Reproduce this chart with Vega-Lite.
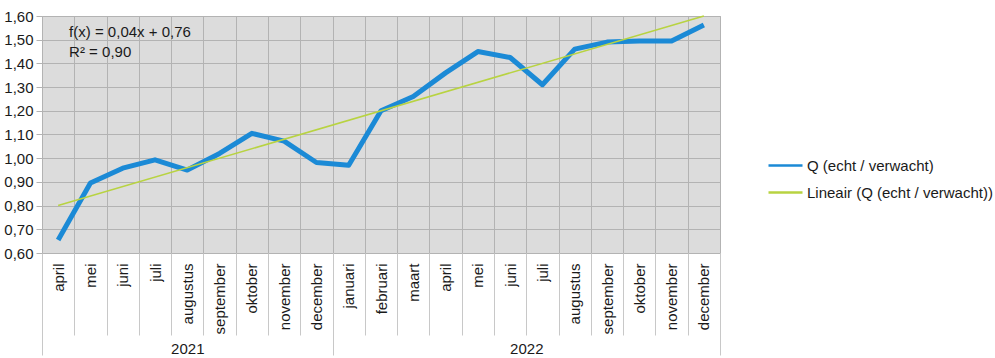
{
  "$schema": "https://vega.github.io/schema/vega-lite/v6.json",
  "width": 678,
  "height": 237,
  "autosize": {"type": "none"},
  "padding": {"left": 42, "top": 16, "right": 275, "bottom": 105},
  "background": "white",
  "config": {
    "font": "Liberation Sans",
    "view": {"fill": "#dcdcdc", "stroke": "#b3b3b3", "strokeWidth": 1},
    "axis": {"labelFont": "Liberation Sans", "labelColor": "#1a1a1a", "labelFontSize": 15},
    "legend": {"labelFont": "Liberation Sans", "labelColor": "#1a1a1a", "labelFontSize": 15}
  },
  "datasets": {
    "q": [
      {"maand": "april 2021", "q": 0.655},
      {"maand": "mei 2021", "q": 0.895},
      {"maand": "juni 2021", "q": 0.958},
      {"maand": "juli 2021", "q": 0.993},
      {"maand": "augustus 2021", "q": 0.95},
      {"maand": "september 2021", "q": 1.02},
      {"maand": "oktober 2021", "q": 1.105},
      {"maand": "november 2021", "q": 1.072},
      {"maand": "december 2021", "q": 0.982},
      {"maand": "januari 2022", "q": 0.97},
      {"maand": "februari 2022", "q": 1.2},
      {"maand": "maart 2022", "q": 1.26},
      {"maand": "april 2022", "q": 1.36},
      {"maand": "mei 2022", "q": 1.45},
      {"maand": "juni 2022", "q": 1.425},
      {"maand": "juli 2022", "q": 1.31},
      {"maand": "augustus 2022", "q": 1.46},
      {"maand": "september 2022", "q": 1.49},
      {"maand": "oktober 2022", "q": 1.495},
      {"maand": "november 2022", "q": 1.495},
      {"maand": "december 2022", "q": 1.562}
    ],
    "trend": [
      {"t": 1, "v": 0.8},
      {"t": 21, "v": 1.6}
    ]
  },
  "layer": [
    {
      "data": {"name": "q"},
      "mark": {"type": "line", "strokeWidth": 5, "strokeJoin": "round", "strokeCap": "butt"},
      "encoding": {
        "x": {
          "field": "maand", "type": "nominal", "sort": null, "bandPosition": 0.5,
          "scale": {"type": "band", "paddingInner": 0, "paddingOuter": 0},
          "axis": {
            "orient": "bottom", "title": null, "tickBand": "extent", "grid": true,
            "gridColor": "#b3b3b3", "domain": false, "tickSize": 82, "tickColor": "#c8c8c8",
            "labelAngle": -90, "labelAlign": "right", "labelBaseline": "middle",
            "labelPadding": -72, "labelOverlap": false, "labelFlush": false,
            "labelExpr": "split(datum.label, ' ')[0]"
          }
        },
        "y": {
          "field": "q", "type": "quantitative", "title": null,
          "scale": {"domain": [0.6, 1.6], "zero": false, "nice": false},
          "axis": {
            "title": null, "values": [0.6, 0.7, 0.8, 0.9, 1.0, 1.1, 1.2, 1.3, 1.4, 1.5, 1.6],
            "labelExpr": "replace(format(datum.value, '.2f'), '.', ',')",
            "grid": true, "gridColor": "#b3b3b3", "tickSize": 6, "tickColor": "#b3b3b3",
            "domain": false, "labelPadding": 3, "labelOverlap": false, "labelFlush": false
          }
        },
        "color": {
          "datum": "Q (echt / verwacht)", "type": "nominal",
          "scale": {
            "domain": ["Q (echt / verwacht)", "Lineair (Q (echt / verwacht))"],
            "range": ["#1b8ad6", "#b8d341"]
          },
          "legend": {
            "orient": "none", "legendX": 725, "legendY": 131, "title": null,
            "symbolType": "stroke", "symbolSize": 1156, "symbolStrokeWidth": 2.5,
            "rowPadding": -3, "labelOffset": 3, "labelLimit": 0
          }
        }
      }
    },
    {
      "layer": [
        {
          "data": {"name": "trend"},
          "mark": {"type": "line", "strokeWidth": 1.6},
          "encoding": {
            "x": {
              "field": "t", "type": "quantitative", "title": null,
              "scale": {"domain": [0.5, 21.5], "nice": false, "zero": false},
              "axis": {
                "orient": "bottom", "title": null, "values": [0.5, 5, 9.5, 15.5, 21.5],
                "labelExpr": "datum.value == 5 ? '2021' : (datum.value == 15.5 ? '2022' : '')",
                "grid": false, "domain": false, "tickSize": 102, "tickColor": "#c8c8c8",
                "tickOpacity": {"condition": {"test": "datum.value == 5 || datum.value == 15.5", "value": 0}, "value": 1},
                "labelPadding": -14, "labelAngle": 0, "labelAlign": "center", "labelBaseline": "top",
                "labelOverlap": false, "labelFlush": false
              }
            },
            "y": {
              "field": "v", "type": "quantitative", "title": null,
              "axis": {
                "title": null, "values": [0.6, 0.7, 0.8, 0.9, 1.0, 1.1, 1.2, 1.3, 1.4, 1.5, 1.6],
                "labelExpr": "replace(format(datum.value, '.2f'), '.', ',')",
                "grid": true, "gridColor": "#b3b3b3", "tickSize": 6, "tickColor": "#b3b3b3",
                "domain": false, "labelPadding": 3, "labelOverlap": false, "labelFlush": false
              }
            },
            "color": {"datum": "Lineair (Q (echt / verwacht))", "type": "nominal"}
          }
        },
        {
          "data": {"values": [{}]},
          "mark": {
            "type": "text", "text": ["f(x) = 0,04x + 0,76", "R² = 0,90"],
            "align": "left", "baseline": "alphabetic", "lineHeight": 20.8,
            "fontSize": 15, "font": "Liberation Sans", "color": "#1a1a1a"
          },
          "encoding": {
            "x": {
              "datum": 1.34, "type": "quantitative", "title": null,
              "axis": {
                "orient": "bottom", "title": null, "values": [0.5, 5, 9.5, 15.5, 21.5],
                "labelExpr": "datum.value == 5 ? '2021' : (datum.value == 15.5 ? '2022' : '')",
                "grid": false, "domain": false, "tickSize": 102, "tickColor": "#c8c8c8",
                "tickOpacity": {"condition": {"test": "datum.value == 5 || datum.value == 15.5", "value": 0}, "value": 1},
                "labelPadding": -14, "labelAngle": 0, "labelAlign": "center", "labelBaseline": "top",
                "labelOverlap": false, "labelFlush": false
              }
            },
            "y": {
              "datum": 1.5135, "type": "quantitative", "title": null,
              "axis": {
                "title": null, "values": [0.6, 0.7, 0.8, 0.9, 1.0, 1.1, 1.2, 1.3, 1.4, 1.5, 1.6],
                "labelExpr": "replace(format(datum.value, '.2f'), '.', ',')",
                "grid": true, "gridColor": "#b3b3b3", "tickSize": 6, "tickColor": "#b3b3b3",
                "domain": false, "labelPadding": 3, "labelOverlap": false, "labelFlush": false
              }
            }
          }
        }
      ]
    }
  ],
  "resolve": {"scale": {"x": "independent"}}
}
